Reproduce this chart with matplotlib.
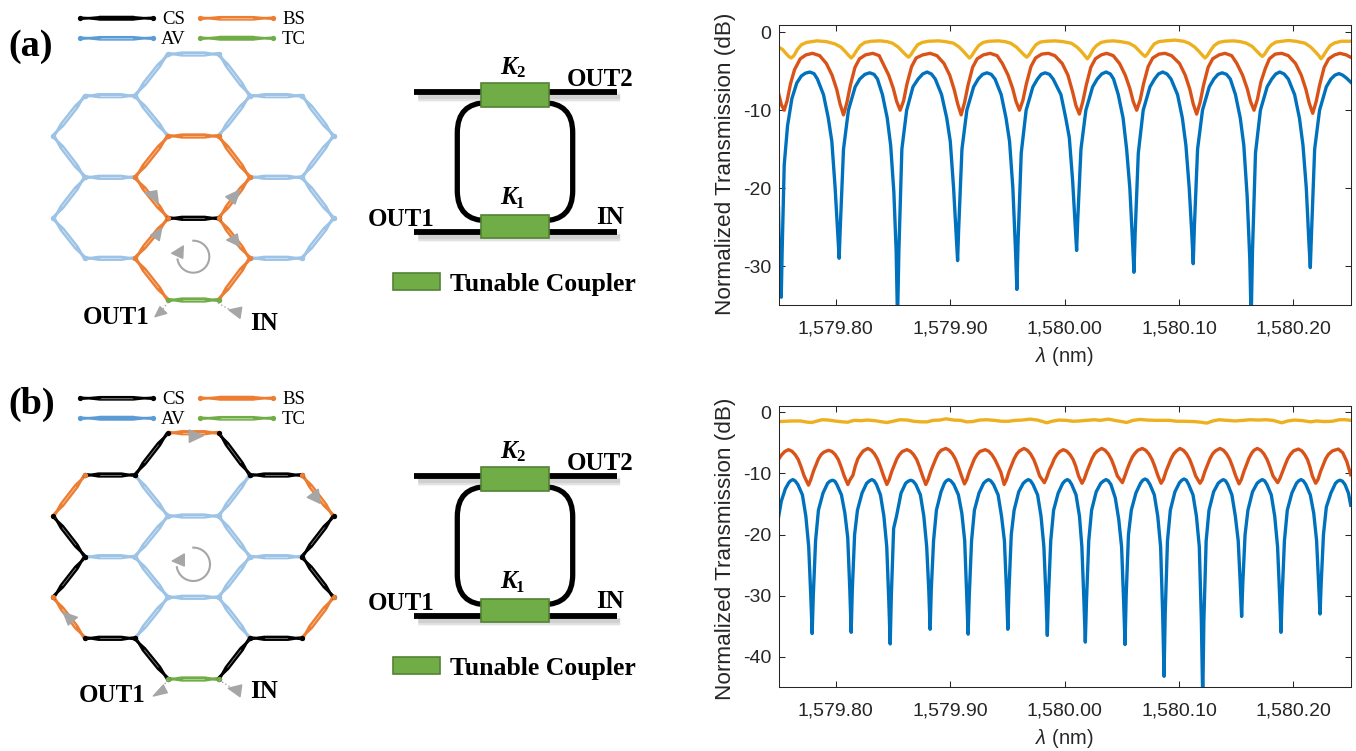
import numpy as np
import matplotlib
matplotlib.use('Agg')
import matplotlib.pyplot as plt
from matplotlib.patches import Polygon, Rectangle, FancyBboxPatch

plt.rcParams['font.family'] = ['Liberation Sans', 'DejaVu Sans']
plt.rcParams['axes.unicode_minus'] = False
plt.rcParams['mathtext.fontset'] = 'custom'
plt.rcParams['mathtext.it'] = 'Liberation Sans:italic'
plt.rcParams['mathtext.rm'] = 'Liberation Sans'

# curves: flat lists x, y, x, y ... with x = wavelength - 1579 nm
a_blue = [
    .7500,-22.5, .7510,-30, .7524,-34, .7532,-28, .7550,-17, .7579,-12, .7617,-8.5, .7660,-6.5, .7700,-5.6, .7735,-5.25, .7773,-5.1, .7810,-5.3,
    .7840,-6, .7893,-8, .7935,-11, .7966,-14, .7995,-20, .8018,-26, .8030,-29, .8040,-25, .8068,-15, .8111,-10, .8170,-7, .8210,-6, .8255,-5.4, .8297,-5.2, .8335,-5.4,
    .8365,-6, .8408,-8, .8450,-11, .8480,-14.5, .8508,-20.5, .8528,-28, .8540,-37, .8552,-28, .8578,-15, .8620,-10, .8675,-7, .8720,-6, .8760,-5.35, .8798,-5.1, .8836,-5.35,
    .8870,-6, .8925,-8, .8970,-11, .9001,-14, .9030,-20, .9053,-26, .9065,-29.3, .9075,-25, .9103,-15, .9146,-10, .9205,-7, .9245,-6, .9283,-5.4, .9321,-5.2, .9359,-5.4,
    .9392,-6, .9446,-8, .9488,-11, .9519,-14, .9548,-20, .9571,-28, .9583,-33, .9593,-27, .9621,-15.5, .9664,-10, .9723,-7, .9763,-6, .9795,-5.4, .9830,-5.2, .9868,-5.4,
    .9900,-6, .9968,-8, 1.0010,-11, 1.0041,-13.5, 1.0070,-19, 1.0093,-25, 1.0105,-28, 1.0115,-24, 1.0143,-15, 1.0186,-10, 1.0245,-7, 1.0285,-6, 1.0324,-5.35, 1.0362,-5.1, 1.0400,-5.35,
    1.0428,-6, 1.0469,-8, 1.0511,-11, 1.0542,-15, 1.0570,-20, 1.0594,-27, 1.0606,-30.8, 1.0616,-26, 1.0644,-15.5, 1.0687,-10, 1.0746,-7, 1.0786,-6, 1.0820,-5.35, 1.0857,-5.1, 1.0895,-5.35,
    1.0930,-6, 1.0987,-8, 1.1029,-11, 1.1060,-14.5, 1.1089,-20, 1.1112,-26, 1.1124,-29.7, 1.1134,-25, 1.1162,-15, 1.1205,-10, 1.1264,-7, 1.1304,-6, 1.1340,-5.4, 1.1377,-5.2, 1.1415,-5.4,
    1.1448,-6, 1.1493,-8, 1.1535,-11, 1.1566,-14.5, 1.1595,-21, 1.1618,-29, 1.1630,-37, 1.1642,-28, 1.1668,-15.5, 1.1711,-10, 1.1770,-7, 1.1810,-6, 1.1845,-5.35, 1.1880,-5.1, 1.1918,-5.35,
    1.1955,-6, 1.2010,-8, 1.2052,-11, 1.2083,-14.5, 1.2112,-20, 1.2135,-27, 1.2147,-30.2, 1.2157,-26, 1.2185,-15, 1.2228,-10, 1.2287,-7, 1.2327,-6, 1.2362,-5.5, 1.2398,-5.3, 1.2430,-5.5,
    1.2465,-5.9, 1.2500,-6.4,
]
a_orange = [
    .7500,-7.8, .7525,-9.3, .7550,-10, .7575,-8.8, .7605,-6.6, .7640,-4.8, .7690,-3.4, .7740,-2.9, .7797,-2.7,
    .7860,-3, .7918,-4, .7968,-5.5, .8008,-7.3, .8038,-9.2, .8068,-10.6, .8098,-9, .8128,-6.8, .8168,-4.5, .8208,-3.4, .8260,-2.9, .8324,-2.7,
    .8380,-3, .8413,-4, .8463,-5.5, .8503,-7.2, .8533,-8.9, .8563,-10, .8593,-8.8, .8623,-6.6, .8663,-4.4, .8703,-3.3, .8760,-2.9, .8825,-2.7,
    .8885,-3, .8946,-4, .8996,-5.5, .9036,-7.4, .9066,-9.2, .9096,-10.6, .9126,-9, .9156,-6.8, .9196,-4.5, .9236,-3.4, .9290,-2.9, .9350,-2.7,
    .9410,-3, .9456,-4, .9506,-5.5, .9546,-7.2, .9576,-8.9, .9606,-10, .9636,-8.7, .9666,-6.6, .9706,-4.4, .9746,-3.3, .9800,-2.8, .9858,-2.7,
    .9915,-3, .9979,-4, 1.0029,-5.5, 1.0069,-7.6, 1.0099,-9.4, 1.0129,-10.5, 1.0159,-8.9, 1.0189,-6.8, 1.0229,-4.5, 1.0269,-3.4, 1.0320,-2.9, 1.0368,-2.7,
    1.0425,-3, 1.0480,-4, 1.0530,-5.5, 1.0570,-7.2, 1.0600,-8.9, 1.0630,-10, 1.0660,-8.7, 1.0690,-6.6, 1.0730,-4.4, 1.0770,-3.3, 1.0825,-2.8, 1.0877,-2.7,
    1.0935,-3, 1.1004,-4, 1.1054,-5.5, 1.1094,-7.3, 1.1124,-9.2, 1.1154,-10.5, 1.1184,-9, 1.1214,-6.8, 1.1254,-4.5, 1.1294,-3.4, 1.1350,-2.9, 1.1402,-2.7,
    1.1460,-3, 1.1505,-4, 1.1555,-5.5, 1.1595,-7.2, 1.1625,-8.9, 1.1655,-10, 1.1685,-8.6, 1.1715,-6.4, 1.1755,-4.6, 1.1790,-3.4, 1.1840,-2.8, 1.1897,-2.7,
    1.1955,-3, 1.2018,-4, 1.2068,-5.5, 1.2108,-7.3, 1.2138,-9.1, 1.2168,-10.4, 1.2198,-8.9, 1.2228,-6.8, 1.2268,-4.5, 1.2308,-3.4, 1.2360,-2.9, 1.2407,-2.7,
    1.2460,-2.9, 1.2500,-3.2,
]
a_yellow = [
    .7500,-1.9, .7535,-2.2, .7570,-2.8, .7590,-3.1, .7611,-3.3, .7635,-3, .7665,-2.2, .7700,-1.6, .7745,-1.3, .7835,-1.1,
    .7920,-1.2, .7995,-1.5, .8045,-1.9, .8085,-2.5, .8115,-3, .8135,-3.3, .8155,-3, .8185,-2.3, .8215,-1.7, .8255,-1.3, .8310,-1.15, .8388,-1.1,
    .8450,-1.2, .8496,-1.4, .8546,-1.9, .8586,-2.5, .8616,-2.95, .8636,-3.2, .8656,-2.9, .8686,-2.2, .8716,-1.6, .8756,-1.3, .8810,-1.15, .8898,-1.1,
    .8960,-1.2, .9029,-1.4, .9079,-1.9, .9119,-2.5, .9149,-3, .9169,-3.3, .9189,-3, .9219,-2.3, .9249,-1.7, .9289,-1.3, .9340,-1.15, .9422,-1.1,
    .9480,-1.2, .9529,-1.4, .9579,-1.9, .9619,-2.5, .9649,-2.95, .9669,-3.2, .9689,-2.9, .9719,-2.2, .9749,-1.6, .9789,-1.25, .9840,-1.15, .9916,-1.1,
    .9985,-1.2, 1.0059,-1.4, 1.0109,-1.9, 1.0149,-2.5, 1.0179,-3.05, 1.0199,-3.4, 1.0219,-3, 1.0249,-2.2, 1.0279,-1.7, 1.0319,-1.3, 1.0370,-1.15, 1.0426,-1.1,
    1.0490,-1.2, 1.0563,-1.4, 1.0613,-1.8, 1.0653,-2.4, 1.0683,-2.85, 1.0703,-3.1, 1.0723,-2.8, 1.0753,-2.1, 1.0783,-1.5, 1.0823,-1.2, 1.0880,-1.1, 1.0965,-1,
    1.1040,-1.15, 1.1087,-1.4, 1.1137,-1.9, 1.1177,-2.5, 1.1207,-3, 1.1227,-3.3, 1.1247,-3, 1.1277,-2.3, 1.1307,-1.7, 1.1347,-1.3, 1.1400,-1.15, 1.1475,-1.1,
    1.1535,-1.2, 1.1588,-1.4, 1.1638,-1.8, 1.1678,-2.4, 1.1708,-2.85, 1.1728,-3.1, 1.1748,-2.8, 1.1778,-2.1, 1.1808,-1.6, 1.1848,-1.25, 1.1900,-1.15, 1.1955,-1.05,
    1.2020,-1.15, 1.2101,-1.4, 1.2151,-1.9, 1.2191,-2.5, 1.2221,-3, 1.2241,-3.4, 1.2261,-3, 1.2291,-2.3, 1.2321,-1.7, 1.2361,-1.35, 1.2420,-1.15, 1.2500,-1.15,
]
b_blue = [
    .7500,-17.2, .7525,-14.5, .7560,-12.5, .7590,-11.5, .7605,-11.2, .7625,-11, .7645,-11.2,
    .7669,-11.8, .7709,-13.5, .7739,-17, .7764,-22, .7782,-30, .7794,-36.2, .7804,-30, .7824,-21, .7849,-16, .7889,-13.2, .7929,-11.6, .7950,-11.25, .7972,-11.1, .7992,-11.25,
    .8010,-11.8, .8050,-13.5, .8080,-16.5, .8105,-20.5, .8123,-29, .8135,-36, .8145,-29, .8165,-20, .8190,-16, .8230,-13.2, .8270,-11.6, .8295,-11.2, .8316,-11, .8336,-11.2,
    .8356,-11.8, .8391,-13.5, .8421,-17, .8446,-22, .8464,-31, .8476,-37.9, .8486,-30, .8506,-19, .8531,-17, .8571,-13.2, .8611,-11.6, .8635,-11.25, .8656,-11.1, .8676,-11.25,
    .8700,-11.8, .8740,-13.5, .8770,-17, .8795,-22, .8813,-29, .8825,-35.5, .8835,-29, .8855,-21, .8880,-16, .8920,-13, .8950,-11.6, .8966,-11.2, .8986,-11, .9006,-11.2,
    .9032,-11.8, .9072,-13.5, .9102,-16.5, .9127,-21, .9145,-30, .9157,-36.3, .9167,-30, .9187,-21, .9212,-16, .9252,-13.2, .9292,-11.6, .9315,-11.2, .9335,-11, .9355,-11.2,
    .9379,-11.8, .9419,-13.5, .9449,-17, .9474,-21, .9492,-29, .9504,-35.5, .9514,-29, .9534,-20, .9559,-16, .9599,-13, .9639,-11.6, .9663,-11.2, .9683,-11, .9703,-11.2,
    .9724,-11.8, .9764,-13.5, .9794,-17, .9819,-22, .9837,-30, .9849,-36.5, .9859,-30, .9879,-21, .9904,-16, .9944,-13.2, .9984,-11.6, 1.0004,-11.2, 1.0024,-11, 1.0042,-11.2,
    1.0062,-11.8, 1.0100,-13.5, 1.0130,-17, 1.0151,-22, 1.0169,-31, 1.0181,-37.6, 1.0191,-31, 1.0211,-21, 1.0236,-16, 1.0276,-13, 1.0316,-11.6, 1.0342,-11.2, 1.0362,-11, 1.0382,-11.2,
    1.0405,-11.8, 1.0443,-14, 1.0473,-17.5, 1.0498,-22, 1.0516,-31, 1.0528,-38, 1.0538,-30, 1.0558,-20, 1.0583,-16, 1.0623,-13.2, 1.0663,-11.6, 1.0683,-11.1, 1.0703,-10.9, 1.0723,-11.1,
    1.0746,-11.8, 1.0784,-13.5, 1.0814,-17, 1.0839,-22, 1.0857,-33, 1.0869,-43.2, 1.0879,-33, 1.0899,-21, 1.0924,-16, 1.0964,-13, 1.1004,-11.5, 1.1024,-11.1, 1.1044,-10.9, 1.1064,-11.1,
    1.1084,-11.8, 1.1122,-13.5, 1.1152,-17, 1.1177,-22, 1.1195,-34, 1.1207,-47, 1.1217,-34, 1.1237,-21, 1.1262,-16, 1.1302,-13, 1.1342,-11.6, 1.1367,-11.2, 1.1387,-11, 1.1407,-11.2,
    1.1426,-11.8, 1.1462,-13.5, 1.1492,-17, 1.1517,-21, 1.1535,-28, 1.1547,-33.4, 1.1557,-28, 1.1577,-20, 1.1602,-16, 1.1642,-13, 1.1682,-11.6, 1.1708,-11.2, 1.1728,-11, 1.1748,-11.2,
    1.1768,-11.8, 1.1806,-13.5, 1.1836,-17, 1.1861,-22, 1.1879,-30, 1.1891,-36, 1.1901,-30, 1.1921,-21, 1.1946,-16, 1.1986,-13.2, 1.2026,-11.6, 1.2046,-11.2, 1.2066,-11, 1.2086,-11.2,
    1.2108,-11.8, 1.2147,-13.5, 1.2177,-16.5, 1.2202,-21, 1.2220,-28, 1.2232,-33, 1.2242,-28, 1.2262,-20, 1.2287,-15.5, 1.2327,-13.2, 1.2367,-11.6, 1.2387,-11.25, 1.2407,-11.1, 1.2427,-11.25,
    1.2450,-11.8, 1.2480,-13.2, 1.2500,-15.2,
]
b_orange = [
    .7500,-7.7, .7525,-7.0, .7555,-6.4, .7587,-6.1,
    .7617,-6.35, .7645,-6.9, .7672,-7.7, .7695,-8.8, .7724,-10.4, .7762,-11.9, .7782,-11, .7806,-9.6, .7827,-8.6, .7849,-7.6, .7872,-6.9, .7897,-6.5, .7937,-6.2,
    .7967,-6.4, .7995,-6.9, .8022,-7.7, .8045,-8.8, .8074,-10.4, .8106,-11.8, .8126,-11, .8150,-10.3, .8171,-8.8, .8193,-7.6, .8216,-6.9, .8241,-6.3, .8281,-5.9,
    .8311,-6.2, .8339,-6.8, .8366,-7.7, .8389,-8.8, .8418,-10.4, .8447,-11.8, .8467,-11, .8491,-9.6, .8512,-8.6, .8534,-7.6, .8557,-6.9, .8582,-6.4, .8622,-6.1,
    .8652,-6.35, .8680,-6.9, .8707,-7.7, .8730,-8.8, .8759,-10.4, .8787,-11.8, .8807,-11, .8831,-9.6, .8852,-8.6, .8874,-7.6, .8897,-6.7, .8922,-6.2, .8962,-5.9,
    .8992,-6.2, .9020,-6.8, .9047,-7.7, .9070,-8.8, .9099,-10.4, .9125,-11.7, .9145,-11, .9169,-9.6, .9190,-8.6, .9212,-7.6, .9235,-6.9, .9260,-6.4, .9306,-6.1,
    .9336,-6.35, .9364,-6.9, .9391,-7.7, .9414,-8.6, .9443,-9.8, .9472,-11.8, .9492,-11, .9516,-9.6, .9537,-8.6, .9559,-7.6, .9582,-6.8, .9607,-6.3, .9645,-5.9,
    .9675,-6.2, .9703,-6.8, .9730,-7.7, .9753,-8.8, .9782,-10.4, .9823,-11.5, .9843,-10.7, .9867,-9.4, .9888,-8.6, .9910,-7.6, .9933,-6.9, .9958,-6.4, .9989,-6.1,
    1.0019,-6.35, 1.0047,-6.9, 1.0074,-7.7, 1.0097,-8.8, 1.0122,-10.4, 1.0152,-11.6, 1.0172,-10.9, 1.0196,-9.6, 1.0217,-8.6, 1.0239,-7.6, 1.0262,-6.8, 1.0287,-6.3, 1.0324,-5.9,
    1.0354,-6.2, 1.0382,-6.8, 1.0409,-7.7, 1.0432,-8.8, 1.0461,-10.4, 1.0505,-11.5, 1.0525,-10.5, 1.0549,-9.2, 1.0570,-8.2, 1.0592,-7.3, 1.0615,-6.7, 1.0640,-6.2, 1.0679,-5.9,
    1.0709,-6.2, 1.0737,-6.8, 1.0764,-7.7, 1.0787,-8.8, 1.0816,-10.4, 1.0843,-11.6, 1.0863,-11, 1.0887,-9.6, 1.0908,-8.6, 1.0930,-7.6, 1.0953,-6.8, 1.0978,-6.3, 1.1008,-5.9,
    1.1038,-6.2, 1.1066,-6.8, 1.1093,-7.7, 1.1116,-8.8, 1.1145,-10.4, 1.1183,-11.6, 1.1203,-11, 1.1227,-9.6, 1.1248,-8.6, 1.1270,-7.6, 1.1293,-6.8, 1.1318,-6.3, 1.1358,-5.9,
    1.1388,-6.2, 1.1416,-6.8, 1.1443,-7.7, 1.1466,-8.8, 1.1495,-10.4, 1.1524,-11.7, 1.1544,-11, 1.1568,-9.6, 1.1589,-8.6, 1.1611,-7.5, 1.1634,-6.7, 1.1655,-6.2, 1.1684,-5.9,
    1.1714,-6.2, 1.1742,-6.8, 1.1769,-7.7, 1.1792,-8.8, 1.1821,-10.4, 1.1862,-11.5, 1.1882,-10.8, 1.1906,-9.6, 1.1927,-8.6, 1.1949,-7.6, 1.1972,-6.9, 1.2000,-6.3, 1.2043,-6,
    1.2073,-6.3, 1.2098,-6.9, 1.2122,-7.7, 1.2142,-8.8, 1.2165,-10.4, 1.2194,-11.6, 1.2214,-11, 1.2238,-9.6, 1.2259,-8.6, 1.2281,-7.6, 1.2304,-6.9, 1.2340,-6.3, 1.2392,-6,
    1.2430,-6.6, 1.2465,-8, 1.2500,-10.2,
]
b_yellow = [
    .7500,-1.5, .7560,-1.45, .7625,-1.4, .7690,-1.4, .7755,-1.6, .7790,-1.65, .7830,-1.45, .7880,-1.2, .7935,-1.25, .7990,-1.4,
    .8060,-1.55, .8105,-1.6, .8160,-1.3, .8220,-1.35, .8275,-1.25, .8340,-1.35, .8405,-1.55, .8450,-1.65, .8500,-1.45, .8560,-1.2,
    .8625,-1.25, .8680,-1.45, .8745,-1.55, .8800,-1.55, .8850,-1.3, .8910,-1.25, .8965,-1.05, .9030,-1.25, .9090,-1.3, .9145,-1.55,
    .9195,-1.5, .9260,-1.25, .9320,-1.2, .9385,-1.3, .9450,-1.45, .9510,-1.45, .9570,-1.3, .9630,-1.25, .9698,-1.1, .9760,-1.25,
    .9810,-1.5, .9843,-1.7, .9890,-1.45, .9950,-1.25, 1.0010,-1.3, 1.0075,-1.45, 1.0130,-1.4, 1.0190,-1.3, 1.0260,-1.2, 1.0310,-1.3,
    1.0382,-1.1, 1.0450,-1.35, 1.0515,-1.55, 1.0542,-1.65, 1.0600,-1.3, 1.0660,-1.15, 1.0720,-1.25, 1.0790,-1.3, 1.0850,-1.3, 1.0915,-1.3,
    1.0980,-1.45, 1.1040,-1.45, 1.1130,-1.5, 1.1190,-1.6, 1.1242,-1.75, 1.1295,-1.4, 1.1350,-1.2, 1.1420,-1.3, 1.1490,-1.4, 1.1560,-1.3,
    1.1620,-1.2, 1.1690,-1.25, 1.1760,-1.2, 1.1820,-1.3, 1.1897,-1.7, 1.1950,-1.4, 1.2010,-1.25, 1.2080,-1.35, 1.2150,-1.55, 1.2200,-1.4,
    1.2270,-1.5, 1.2340,-1.45, 1.2400,-1.2, 1.2450,-1.2, 1.2500,-1.3,
]

x_ticks = [1579.8, 1579.9, 1580.0, 1580.1, 1580.2]
x_tick_labels = ['1,579.80', '1,579.90', '1,580.00', '1,580.10', '1,580.20']

W, H = 1356, 751
BLUE, RED, YEL = '#0072BD', '#D95319', '#EDB120'
DARK = '#262626'
C_CS, C_BS, C_AV, C_AV_L, C_TC = 'black', '#ED7D31', '#5B9BD5', '#9DC3E6', '#70AD47'
GREY = '#A6A6A6'

fig = plt.figure(figsize=(W / 100, H / 100), dpi=100)
bg = fig.add_axes([0, 0, 1, 1])
bg.set_xlim(0, W)
bg.set_ylim(H, 0)
bg.axis('off')


def spectrum(left, right, top, bottom, series, ymin, yticks, ylab_y, xlab_y):
    ax = fig.add_axes([left / W, 1 - bottom / H, (right - left) / W, (bottom - top) / H])
    for data, col in series:
        ax.plot(1579 + np.array(data[::2]), data[1::2], color=col, lw=2.4, solid_joinstyle='round')
    ax.set_xlim(1579.75, 1580.25)
    ax.set_ylim(ymin, 1)
    ax.set_xticks(x_ticks)
    ax.set_xticklabels(x_tick_labels)
    ax.set_yticks(yticks)
    ax.tick_params(direction='in', length=4.6, width=0.75, color=DARK, top=True, right=True,
                   labelsize=14, labelcolor=DARK)
    ax.tick_params(axis='x', pad=11)
    ax.tick_params(axis='y', pad=5)
    for s in ax.spines.values():
        s.set_linewidth(0.75)
        s.set_color(DARK)
    ax.set_ylabel('Normalized Transmission (dB)', fontsize=16.2, color=DARK, va='center')
    ax.yaxis.set_label_coords((725 - left) / (right - left), (bottom - ylab_y) / (bottom - top))
    ax.set_xlabel(r'$\lambda$ (nm)', fontsize=14.5, color=DARK, va='center')
    ax.xaxis.set_label_coords(0.5, -(xlab_y - bottom) / (bottom - top))
    return ax


spectrum(778.5, 1350.7, 24.5, 305, [(a_blue, BLUE), (a_orange, RED), (a_yellow, YEL)], -35, [-30, -20, -10, 0], 164, 357)
spectrum(778.5, 1350.7, 406.3, 687.3, [(b_blue, BLUE), (b_orange, RED), (b_yellow, YEL)], -45, [-40, -30, -20, -10, 0], 549, 738)


def coupler(p0, p1, col, filled=False, lw=1.5):
    # two waveguides that come close in the middle, with a small blob at both ends
    p0, p1 = np.array(p0, float), np.array(p1, float)
    d = p1 - p0
    n = np.array([-d[1], d[0]]) / np.hypot(*d)
    t = np.array([.02, .12, .27, .73, .88, .98])
    off = np.array([.9, .4, 1.6, 1.6, .4, .9])
    for sign in (1, -1):
        pts = p0 + np.outer(t, d) + sign * np.outer(off, n)
        bg.plot(pts[:, 0], pts[:, 1], color=col, lw=lw, solid_capstyle='round', zorder=2)
    core = p0 + np.outer([.03, .97], d)
    bg.plot(core[:, 0], core[:, 1], color=col, lw=1.7, zorder=2)
    bg.plot([p0[0], p1[0]], [p0[1], p1[1]], 'o', color=col, ms=3.8, mew=0, zorder=2.2)
    mid = p0 + np.outer([.29, .71], d)
    if filled:
        bg.plot(mid[:, 0], mid[:, 1], color=col, lw=3.2, zorder=2)
    else:
        bg.plot(mid[:, 0], mid[:, 1], color='white', lw=0.5, alpha=.6, zorder=2.1)


def tri(pts):
    bg.add_patch(Polygon(pts, closed=True, fc=GREY, ec=GREY, lw=1.0, joinstyle='round', zorder=5))


def circ_arrow(cx, cy, r, head):
    ang = np.radians(np.linspace(-90, 170, 60))
    bg.plot(cx + r * np.cos(ang), cy + r * np.sin(ang), color=GREY, lw=1.5, zorder=5)
    tri(head)


def serif(x, y, s, size, ha='left', bold=True, style='normal'):
    bg.text(x, y, s, fontsize=size, ha=ha, va='center', family='Liberation Serif',
            weight='bold' if bold else 'normal', style=style, color='black', zorder=6)


def legend_row(dy, fills):
    rows = [(80, 153, 18.3, C_CS, 'CS', 162), (200, 273, 18.3, C_BS, 'BS', 282),
            (80, 153, 38.3, C_AV, 'AV', 161), (200, 273, 38.3, C_TC, 'TC', 282)]
    for (x0, x1, y, col, lab, tx), f in zip(rows, fills):
        coupler((x0, y + dy), (x1, y + dy), col, filled=f, lw=1.1)
        serif(tx, y + dy + 1, lab, 13.5, bold=False)


# lattice nodes, px
XS = [53.3, 85, 135, 168, 218.5, 250, 302, 333.5]


def lattice(ys, dy, orange, black, green):
    v = lambda c, r: (XS[c], ys[r] + dy)
    edges = [
        ((3, 0), (4, 0)), ((3, 0), (2, 1)), ((4, 0), (5, 1)),
        ((1, 1), (2, 1)), ((5, 1), (6, 1)), ((2, 1), (3, 2)), ((5, 1), (4, 2)),
        ((1, 1), (0, 2)), ((6, 1), (7, 2)), ((3, 2), (4, 2)),
        ((0, 2), (1, 3)), ((7, 2), (6, 3)), ((3, 2), (2, 3)), ((4, 2), (5, 3)),
        ((1, 3), (2, 3)), ((5, 3), (6, 3)), ((2, 3), (3, 4)), ((5, 3), (4, 4)),
        ((1, 3), (0, 4)), ((6, 3), (7, 4)), ((3, 4), (4, 4)),
        ((0, 4), (1, 5)), ((7, 4), (6, 5)), ((3, 4), (2, 5)), ((4, 4), (5, 5)),
        ((1, 5), (2, 5)), ((5, 5), (6, 5)), ((2, 5), (3, 6)), ((5, 5), (4, 6)),
        ((3, 6), (4, 6)),
    ]
    keys = {frozenset(e): C_AV_L for e in edges}
    for e in orange:
        keys[frozenset(e)] = C_BS
    for e in black:
        keys[frozenset(e)] = C_CS
    for e in green:
        keys[frozenset(e)] = C_TC
    for e in sorted(edges, key=lambda q: keys[frozenset(q)] != C_AV_L):
        coupler(v(*e[0]), v(*e[1]), keys[frozenset(e)])


YA = [54, 95.7, 136, 177.3, 218.3, 258.3, 300]
YB = [52.7, 95, 136, 176.7, 217.3, 258.3, 299]

orange_a = [((3, 2), (4, 2)), ((3, 2), (2, 3)), ((4, 2), (5, 3)), ((2, 3), (3, 4)), ((5, 3), (4, 4)),
            ((3, 4), (2, 5)), ((4, 4), (5, 5)), ((2, 5), (3, 6)), ((5, 5), (4, 6))]
black_a = [((3, 4), (4, 4))]
orange_b = [((3, 0), (4, 0)), ((1, 1), (0, 2)), ((6, 1), (7, 2)), ((0, 4), (1, 5)), ((7, 4), (6, 5))]
black_b = [((3, 0), (2, 1)), ((4, 0), (5, 1)), ((1, 1), (2, 1)), ((5, 1), (6, 1)),
           ((0, 2), (1, 3)), ((7, 2), (6, 3)), ((1, 3), (0, 4)), ((6, 3), (7, 4)),
           ((1, 5), (2, 5)), ((5, 5), (6, 5)), ((2, 5), (3, 6)), ((5, 5), (4, 6))]
green_all = [((3, 6), (4, 6))]

lattice(YA, 0, orange_a, black_a, green_all)
lattice(YB, 380, orange_b, black_b, green_all)
legend_row(0, [True, False, False, True])
legend_row(380, [False, True, True, False])

# panel a arrows
tri([(158.3, 203.3), (145, 192.7), (156.7, 190.7)])
tri([(225.7, 196.7), (240, 190), (235, 204)])
tri([(150.7, 235), (161.7, 228.3), (159.3, 240.7)])
tri([(226.7, 240), (237.3, 234), (239.3, 246)])
tri([(155, 316.7), (160, 306.7), (166.7, 313.3)])
tri([(229, 310), (241.7, 307.3), (240, 318.3)])
bg.plot([168, 163], [302, 309], color=GREY, lw=1, ls=':', zorder=4)
bg.plot([218, 232], [303, 311], color=GREY, lw=1, ls=':', zorder=4)
circ_arrow(193.3, 256.7, 16, [(171.7, 253.3), (183.3, 246), (182.7, 258.3)])

# panel b arrows
tri([(189.3, 430), (189.3, 442.3), (203.3, 435.7)])
tri([(307.3, 497.3), (318.3, 489.3), (320, 503.3)])
tri([(63.3, 612.3), (77.3, 617.3), (68.3, 625)])
tri([(153.3, 696), (163.3, 685), (167.3, 692.7)])
tri([(228.3, 688.3), (241.7, 685), (240, 696.7)])
bg.plot([168, 163], [680, 686], color=GREY, lw=1, ls=':', zorder=4)
bg.plot([219, 232], [680, 688], color=GREY, lw=1, ls=':', zorder=4)
circ_arrow(193.3, 564.3, 16.7, [(172.3, 561), (184.3, 554), (184.3, 566)])

serif(8, 46, '(a)', 27.5)
serif(8, 404, '(b)', 27.5)
serif(83, 318, 'OUT1', 18)
serif(250, 323, 'IN', 18)
serif(79, 695, 'OUT1', 18)
serif(250, 691, 'IN', 18)


def ring(dy):
    # soft shadow under the waveguides
    for w, al in ((7, .07), (5, .1), (3, .12)):
        for y in (91.7 + dy + 5, 231.7 + dy + 5):
            bg.plot([418, 620], [y, y], color='#555555', lw=w, alpha=al, zorder=1, solid_capstyle='butt')
    bg.add_patch(FancyBboxPatch((457.3 + 21, 102.7 + dy + 21), 115.4 - 42, 118 - 42,
                                boxstyle='round,pad=21,rounding_size=30',
                                fc='none', ec='black', lw=3.8, zorder=2))
    for y in (91.7 + dy, 231.7 + dy):
        bg.plot([414, 616.7], [y, y], color='black', lw=4.2, solid_capstyle='butt', zorder=3)
    for y in (83.3 + dy, 215 + dy):
        bg.add_patch(Rectangle((481, y), 68.3, 23.4, fc=C_TC, ec='#548235', lw=1.2, zorder=4))
    bg.add_patch(Rectangle((392.7, 273.3 + dy), 47.3, 16.7, fc=C_TC, ec='#548235', lw=1.2, zorder=4))
    serif(450, 285 + dy, 'Tunable Coupler', 18.5)
    serif(567, 80 + dy, 'OUT2', 18)
    serif(368, 220 + dy, 'OUT1', 18)
    serif(596, 218 + dy, 'IN', 18)
    serif(500, 67 + dy, 'K', 18, style='italic')
    serif(516, 73 + dy, '2', 12)
    serif(500, 198 + dy, 'K', 18, style='italic')
    serif(516, 204 + dy, '1', 12)


ring(0)
ring(384)

fig.savefig('out.png', dpi=100)
